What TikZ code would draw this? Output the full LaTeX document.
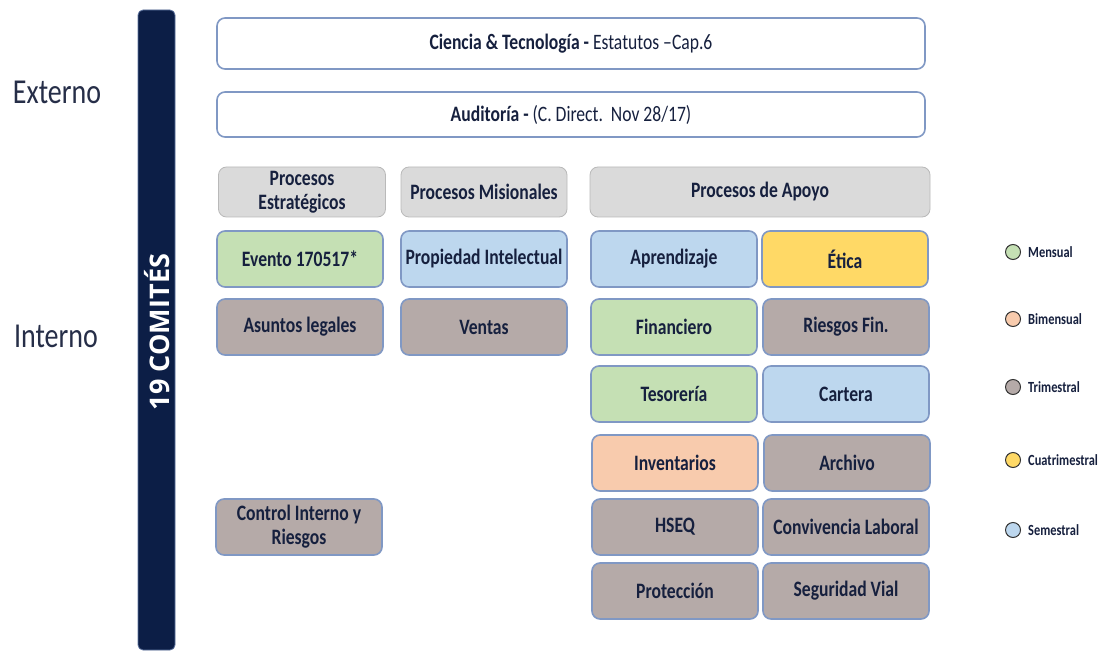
\documentclass[tikz,border=0pt]{standalone}
\usepackage{fontspec}
\setmainfont{Carlito}[FakeStretch=0.8]
\newfontfamily\opensans{Open Sans}
\usepackage{xcolor}
\usetikzlibrary{positioning}
\definecolor{marino}{RGB}{12,30,70}
\definecolor{borde}{RGB}{128,152,196}
\definecolor{tinta}{RGB}{22,32,62}
\definecolor{verde}{RGB}{197,224,180}
\definecolor{azul}{RGB}{189,215,238}
\definecolor{amarillo}{RGB}{255,217,102}
\definecolor{pardo}{RGB}{181,170,168}
\definecolor{salmon}{RGB}{248,203,173}
\definecolor{gris}{RGB}{218,218,218}
\tikzset{
  caja/.style={rounded corners=8pt, draw=borde, line width=1.6pt, text=tinta,
    font=\bfseries\fontsize{22}{24}\selectfont, align=center, inner sep=0pt,
    minimum width=166pt, minimum height=56pt},
  encabezado/.style={caja, fill=gris, draw=gris!85!black, line width=0.8pt, minimum height=50pt},
  externa/.style={caja, fill=white, minimum width=708pt},
  lado/.style={text=tinta!85!gray, font=\fontsize{35}{38}\selectfont},
  punto/.style={circle, draw=black!80, line width=1pt, minimum size=15pt, inner sep=0pt},
  leyenda/.style={text=tinta, font=\bfseries\fontsize{15.5}{17}\selectfont, inner sep=0pt}
}
\begin{document}
\begin{tikzpicture}[x=1pt, y=-1pt]
  \useasboundingbox[fill=white] (0,0) rectangle (1105,652);
  \filldraw[fill=marino, draw=borde!70!marino, line width=0.8pt, rounded corners=5pt] (138,10) rectangle (175,650);
  \node[rotate=90, text=white, font=\opensans\bfseries\fontsize{27}{27}\selectfont] (comites) at (157,332) {19 COMITÉS};
  \node[lado] (externo) at (57,92) {Externo};
  \node[lado] (interno) at (56,336) {Interno};

  \node[externa, minimum height=51pt] (ciencia) at (571,43.5) {Ciencia \& Tecnología - \mdseries Estatutos –Cap.6};
  \node[externa, minimum height=45pt] (auditoria) at (571,114.5) {Auditoría - \mdseries(C. Direct.\ \ Nov 28/17)};

  \node[encabezado, minimum width=167pt] (estrategicos) at (302,192) {Procesos\\Estratégicos};
  \node[encabezado] (misionales) at (484,192) {Procesos Misionales};
  \node[encabezado, minimum width=340pt] (apoyo) at (760,192) {Procesos de Apoyo};

  \node[caja, fill=verde] (evento) at (300,259) {Evento 170517*};
  \node[caja, fill=pardo] (legales) at (300,327) {Asuntos legales};
  \node[caja, fill=pardo] (control) at (299,527) {Control Interno y\\Riesgos};
  \node[caja, fill=azul] (propiedad) at (484,259) {Propiedad Intelectual};
  \node[caja, fill=pardo] (ventas) at (484,327) {Ventas};

  \node[caja, fill=azul] (aprendizaje) at (674,259) {Aprendizaje};
  \node[caja, fill=verde] (financiero) at (674,327) {Financiero};
  \node[caja, fill=verde] (tesoreria) at (674,394) {Tesorería};
  \node[caja, fill=salmon] (inventarios) at (675,463) {Inventarios};
  \node[caja, fill=pardo] (hseq) at (675,527) {HSEQ};
  \node[caja, fill=pardo] (proteccion) at (675,591) {Protección};
  \node[caja, fill=amarillo] (etica) at (845,259) {Ética};
  \node[caja, fill=pardo] (riesgos) at (846,327) {Riesgos Fin.};
  \node[caja, fill=azul] (cartera) at (846,394) {Cartera};
  \node[caja, fill=pardo] (archivo) at (847,463) {Archivo};
  \node[caja, fill=pardo] (convivencia) at (846,527) {Convivencia Laboral};
  \node[caja, fill=pardo] (vial) at (846,591) {Seguridad Vial};

  \foreach \y/\c/\t in {252/verde/Mensual, 319/salmon/Bimensual, 387/pardo/Trimestral,
      460/amarillo/Cuatrimestral, 530/azul/Semestral}
  {
    \node[punto, fill=\c] (c\t) at (1013,\y) {};
    \node[leyenda, right=7pt of c\t] (l\t) {\t};
  }
\end{tikzpicture}
\end{document}
